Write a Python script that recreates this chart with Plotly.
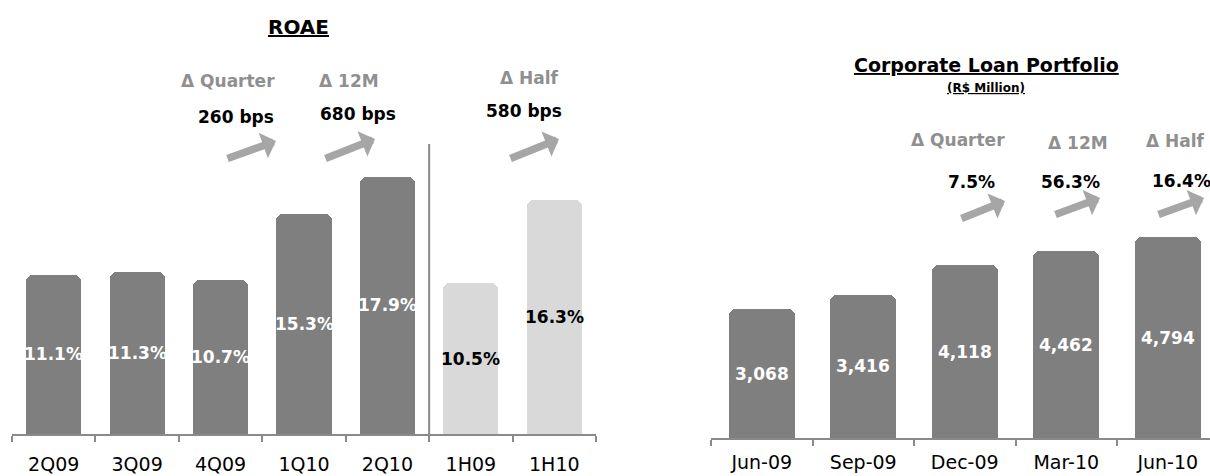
import plotly.graph_objects as go

# ---- data -------------------------------------------------------------
roae_periods = ["2Q09", "3Q09", "4Q09", "1Q10", "2Q10", "1H09", "1H10"]
roae_values = [11.1, 11.3, 10.7, 15.3, 17.9, 10.5, 16.3]
roae_is_half = [False, False, False, False, False, True, True]

loan_dates = ["Jun-09", "Sep-09", "Dec-09", "Mar-10", "Jun-10"]
loan_values = [3068, 3416, 4118, 4462, 4794]

roae_delta_names = ["Δ Quarter", "Δ 12M", "Δ Half"]
roae_delta_values = ["260 bps", "680 bps", "580 bps"]
loan_delta_names = ["Δ Quarter", "Δ 12M", "Δ Half"]
loan_delta_values = ["7.5%", "56.3%", "16.4%"]

# ---- styling ----------------------------------------------------------
W, H = 1210, 476
DARK = "#7f7f7f"
LIGHT = "#d9d9d9"
AXIS = "#8a8a8a"
ARROW = "#a6a6a6"
DELTA_GREY = "#8f8f8f"
FONT = "DejaVu Sans"


def px(x):
    return x / W


def py(y):
    return 1 - y / H


fig = go.Figure()

# ROAE bars
fig.add_trace(go.Bar(
    x=roae_periods, y=roae_values,
    marker=dict(color=[LIGHT if h else DARK for h in roae_is_half],
                cornerradius=7, line=dict(width=0)),
    width=0.66, xaxis="x", yaxis="y", hoverinfo="skip",
))

# Corporate loan bars
fig.add_trace(go.Bar(
    x=loan_dates, y=loan_values,
    marker=dict(color=DARK, cornerradius=7, line=dict(width=0)),
    width=0.65, xaxis="x2", yaxis="y2", hoverinfo="skip",
))

annotations = []

# value labels in the middle of each bar
for cat, v, half in zip(roae_periods, roae_values, roae_is_half):
    annotations.append(dict(
        x=cat, y=v / 2, xref="x", yref="y", text=f"<b>{v:.1f}%</b>",
        showarrow=False, xanchor="center", yanchor="middle",
        font=dict(family=FONT, size=17, color="black" if half else "white"),
    ))
for cat, v in zip(loan_dates, loan_values):
    annotations.append(dict(
        x=cat, y=v / 2, xref="x2", yref="y2", text=f"<b>{v:,}</b>",
        showarrow=False, xanchor="center", yanchor="middle",
        font=dict(family=FONT, size=17, color="white"),
    ))

# titles
annotations.append(dict(
    x=px(298), y=py(27), xref="paper", yref="paper", text="<b><u>ROAE</u></b>",
    showarrow=False, xanchor="center", yanchor="middle",
    font=dict(family=FONT, size=20, color="black"),
))
annotations.append(dict(
    x=px(986), y=py(65), xref="paper", yref="paper",
    text="<b><u>Corporate Loan Portfolio</u></b>",
    showarrow=False, xanchor="center", yanchor="middle",
    font=dict(family=FONT, size=19, color="black"),
))
annotations.append(dict(
    x=px(986), y=py(88), xref="paper", yref="paper",
    text="<b><u>(R$ Million)</u></b>",
    showarrow=False, xanchor="center", yanchor="middle",
    font=dict(family=FONT, size=12, color="black"),
))

# change indicators: caption, value and a rising arrow
roae_name_pos = [(228, 81), (349, 81), (529, 78)]
roae_value_pos = [(236, 117), (358, 114), (524, 111)]
roae_arrows = [((226, 159), (276, 141)), ((324, 159), (375, 139)), ((509, 159), (559, 139))]

loan_name_pos = [(958, 140), (1078, 143), (1175, 141)]
loan_value_pos = [(971, 182), (1070, 182), (1181, 181)]
loan_arrows = [((960, 219), (1005, 201)), ((1054, 215), (1100, 198)), ((1157, 215), (1204, 198))]


def add_deltas(names, values, name_pos, value_pos, arrows):
    for name, (nx, ny) in zip(names, name_pos):
        annotations.append(dict(
            x=px(nx), y=py(ny), xref="paper", yref="paper", text=f"<b>{name}</b>",
            showarrow=False, xanchor="center", yanchor="middle",
            font=dict(family=FONT, size=17, color=DELTA_GREY),
        ))
    for val, (vx, vy) in zip(values, value_pos):
        annotations.append(dict(
            x=px(vx), y=py(vy), xref="paper", yref="paper", text=f"<b>{val}</b>",
            showarrow=False, xanchor="center", yanchor="middle",
            font=dict(family=FONT, size=17, color="black"),
        ))
    for (tail, tip) in arrows:
        annotations.append(dict(
            x=px(tip[0]), y=py(tip[1]), xref="paper", yref="paper", text="",
            showarrow=True, arrowhead=1, arrowsize=0.6, arrowwidth=7.5,
            arrowcolor=ARROW, ax=tail[0] - tip[0], ay=tail[1] - tip[1],
            standoff=0,
        ))


add_deltas(roae_delta_names, roae_delta_values, roae_name_pos, roae_value_pos, roae_arrows)
add_deltas(loan_delta_names, loan_delta_values, loan_name_pos, loan_value_pos, loan_arrows)

common_x = dict(
    type="category", tickson="boundaries", ticks="outside", ticklen=6,
    tickwidth=1.5, tickcolor=AXIS, showline=True, linecolor=AXIS, linewidth=2,
    showgrid=False, zeroline=False, fixedrange=True, automargin=False,
    tickfont=dict(family=FONT, size=19, color="black"),
)

ROAE_BASE, ROAE_TOP, ROAE_PX = 434, 130, 14.36
LOAN_BASE, LOAN_TOP, LOAN_PX = 438, 200, 0.0419

fig.update_layout(
    width=W, height=H,
    margin=dict(l=0, r=0, t=0, b=0),
    paper_bgcolor="white", plot_bgcolor="white",
    showlegend=False, bargap=0,
    xaxis=dict(domain=[px(12), px(596)], range=[-0.5, 6.5], anchor="y",
               ticklabelstandoff=12, **common_x),
    yaxis=dict(domain=[py(ROAE_BASE), py(ROAE_TOP)],
               range=[0, (ROAE_BASE - ROAE_TOP) / ROAE_PX], visible=False,
               fixedrange=True, anchor="x"),
    xaxis2=dict(domain=[px(711), 1.0], range=[-0.5, -0.5 + (W - 711) / 101.5],
                anchor="y2", ticklabelstandoff=6, **common_x),
    yaxis2=dict(domain=[py(LOAN_BASE), py(LOAN_TOP)],
                range=[0, (LOAN_BASE - LOAN_TOP) / LOAN_PX], visible=False,
                fixedrange=True, anchor="x2"),
    annotations=annotations,
    shapes=[dict(type="line", xref="x", yref="paper", x0=4.5, x1=4.5,
                 y0=py(ROAE_BASE), y1=py(144), line=dict(color=AXIS, width=2))],
)

fig.write_html("out.html", config=dict(displayModeBar=False))
